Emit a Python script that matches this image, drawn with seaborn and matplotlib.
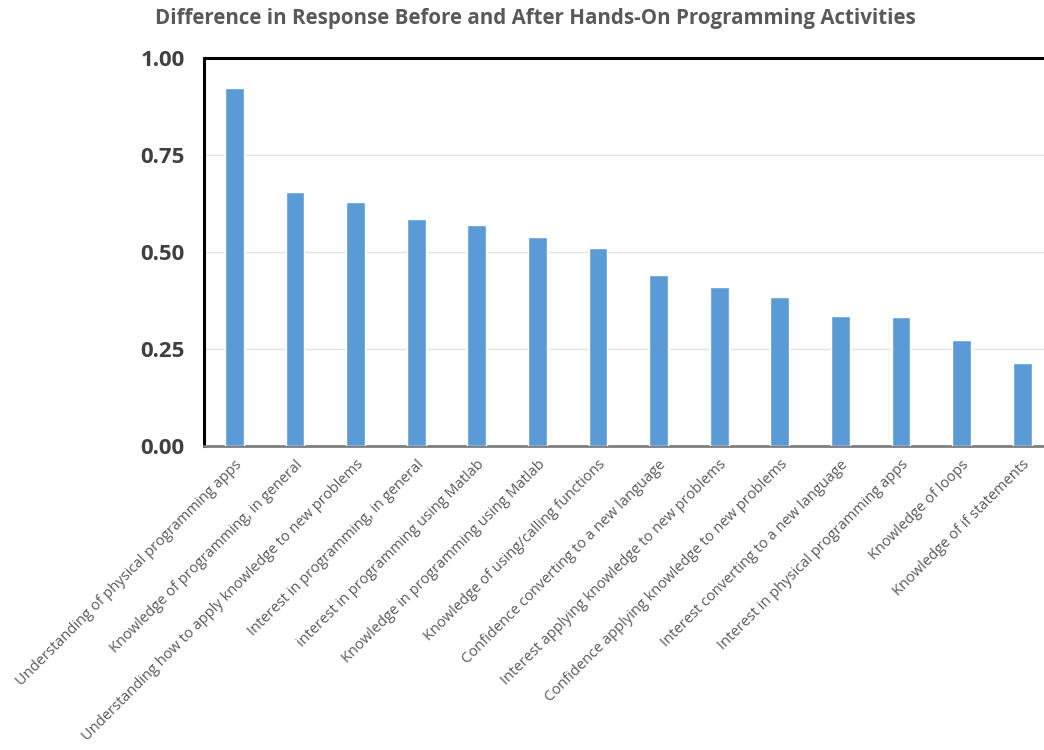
import numpy as np
import pandas as pd
import matplotlib
matplotlib.use("Agg")
import matplotlib.pyplot as plt
import seaborn as sns

# Chart data
items = [
    "Understanding of physical programming apps",
    "Knowledge of programming, in general",
    "Understanding how to apply knowledge to new problems",
    "Interest in programming, in general",
    "interest in programming using Matlab",
    "Knowledge in programming using Matlab",
    "Knowledge of using/calling functions",
    "Confidence converting to a new language",
    "Interest applying knowledge to new problems",
    "Confidence applying knowledge to new problems",
    "Interest converting to a new language",
    "Interest in physical programming apps",
    "Knowledge of loops",
    "Knowledge of if statements",
]
difference = [0.923, 0.655, 0.630, 0.584, 0.570, 0.538, 0.510,
              0.440, 0.410, 0.383, 0.336, 0.333, 0.273, 0.214]
yticks = [0.00, 0.25, 0.50, 0.75, 1.00]

df = pd.DataFrame({"item": items, "difference": difference})

sns.set_style("white")
plt.rcParams["font.family"] = ["Open Sans", "DejaVu Sans"]

fig = plt.figure(figsize=(10.44, 7.5), dpi=100)
ax = fig.add_axes([0.1954, 0.4053, 0.8046, 0.5174])

sns.barplot(data=df, x="item", y="difference", order=items,
            color="#5B9BD5", saturation=1, width=0.31, ax=ax, zorder=3)

ax.set_ylim(0, 1.0)
ax.set_xlim(-0.5, 13.36)
ax.set_yticks(yticks)
ax.set_yticklabels([f"{v:.2f}" for v in yticks], fontsize=16,
                   fontweight="bold", color="#404040")
ax.yaxis.grid(True, color="#e3e3e3", linewidth=1, zorder=0)
ax.set_axisbelow(True)

ax.set_xticks(range(len(items)))
ax.set_xticklabels(items, rotation=45, ha="right", rotation_mode="anchor",
                   fontsize=10.5, color="#595959")
ax.tick_params(axis="x", length=0, pad=8)
ax.tick_params(axis="y", length=0, pad=14)

ax.set_xlabel("")
ax.set_ylabel("")

for side in ["top", "left"]:
    ax.spines[side].set_color("black")
    ax.spines[side].set_linewidth(2.2)
ax.spines["bottom"].set_color("#7f7f7f")
ax.spines["bottom"].set_linewidth(2)
ax.spines["right"].set_visible(False)

fig.text(0.513, 0.975, "Difference in Response Before and After Hands-On Programming Activities",
         ha="center", va="center", fontsize=14.8, fontweight="bold", color="#595959")

fig.savefig("out.png", dpi=100)
